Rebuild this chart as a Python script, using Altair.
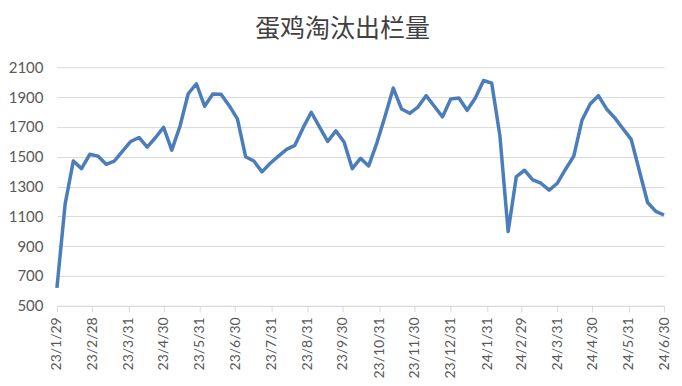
import altair as alt
import pandas as pd

title_text = "蛋鸡淘汰出栏量"
start_date = "2023-01-29"
values = [620, 1182, 1471, 1420, 1516, 1504, 1449, 1471, 1538, 1602,
          1629, 1564, 1627, 1696, 1544, 1704, 1922, 1989, 1838, 1920,
          1918, 1842, 1753, 1500, 1471, 1398, 1456, 1504, 1549, 1576,
          1693, 1798, 1700, 1602, 1673, 1598, 1420, 1489, 1438, 1593,
          1771, 1960, 1820, 1791, 1833, 1909, 1838, 1767, 1887, 1893,
          1811, 1893, 2011, 1993, 1638, 998, 1367, 1409, 1345, 1322,
          1276, 1322, 1416, 1504, 1744, 1853, 1909, 1820, 1760, 1687,
          1616, 1404, 1193, 1133, 1109]
tick_dates = [(2023, 1, 29), (2023, 2, 28), (2023, 3, 31), (2023, 4, 30),
              (2023, 5, 31), (2023, 6, 30), (2023, 7, 31), (2023, 8, 31),
              (2023, 9, 30), (2023, 10, 31), (2023, 11, 30), (2023, 12, 31),
              (2024, 1, 31), (2024, 2, 29), (2024, 3, 31), (2024, 4, 30),
              (2024, 5, 31), (2024, 6, 30)]
y_ticks = [500, 700, 900, 1100, 1300, 1500, 1700, 1900, 2100]

dates = pd.date_range(start_date, periods=len(values), freq="7D").strftime("%Y-%m-%d")
df = pd.DataFrame({"date": dates, "value": values})

def dt(t):
    return alt.DateTime(year=t[0], month=t[1], date=t[2], utc=True)

label_color = "#595959"
grid_color = "#d9d9d9"

chart = alt.Chart(df).mark_line(color="#4a7dba", strokeWidth=3.5, strokeJoin="round").encode(
    x=alt.X("date:T",
            scale=alt.Scale(type="utc", domain=[dt(tick_dates[0]), dt(tick_dates[-1])], nice=False),
            axis=alt.Axis(values=[dt(t) for t in tick_dates],
                          labelExpr="utcFormat(datum.value, '%y/%-m/%-d')",
                          labelAngle=270, title=None, grid=False,
                          domainColor=grid_color, tickColor=grid_color, tickSize=6,
                          labelColor=label_color, labelFont="Lato", labelFontSize=14,
                          labelPadding=5, labelOverlap=False, labelFlush=False)),
    y=alt.Y("value:Q",
            scale=alt.Scale(domain=[500, 2100], nice=False, zero=False),
            axis=alt.Axis(values=y_ticks, format="d", title=None, domain=False, ticks=False,
                          gridColor=grid_color, gridWidth=1,
                          labelColor=label_color, labelFont="Lato", labelFontSize=15,
                          labelPadding=14)),
).properties(
    width=608,
    height=239,
    title=alt.TitleParams(title_text, font="Noto Sans CJK SC", fontSize=25,
                          fontWeight="normal", color="#404040", anchor="middle",
                          dx=-18, offset=18),
    autosize=alt.AutoSizeParams(type="none"),
    padding={"left": 49, "top": 59, "right": 10, "bottom": 78},
).configure_view(stroke=None)

chart.save("out.html", embed_options={"renderer": "svg", "actions": False})
